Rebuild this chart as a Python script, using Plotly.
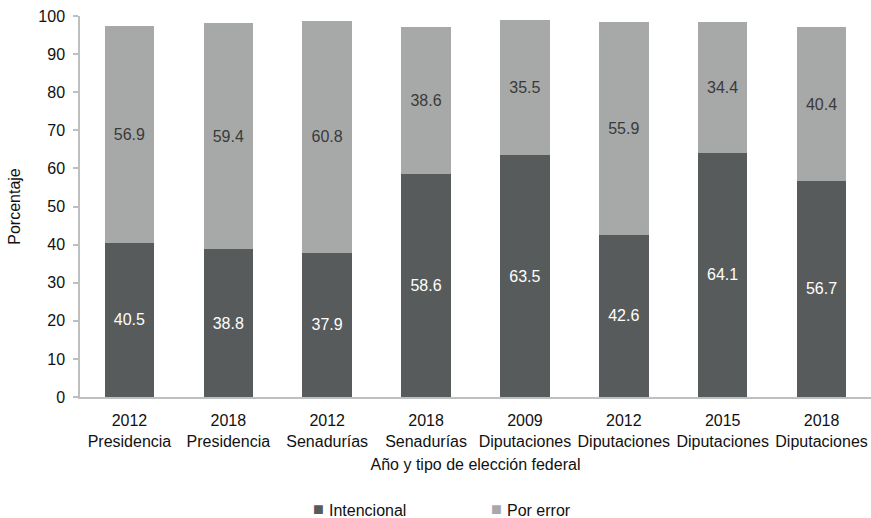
import plotly.graph_objects as go

# Federal elections: year and office
years = ["2012", "2018", "2012", "2018", "2009", "2012", "2015", "2018"]
offices = ["Presidencia", "Presidencia", "Senadurías", "Senadurías",
           "Diputaciones", "Diputaciones", "Diputaciones", "Diputaciones"]
categories = [f"{y}<br>{o}" for y, o in zip(years, offices)]

# Percentage of null votes by type
series_names = ["Intencional", "Por error"]
intencional = [40.5, 38.8, 37.9, 58.6, 63.5, 42.6, 64.1, 56.7]
por_error = [56.9, 59.4, 60.8, 38.6, 35.5, 55.9, 34.4, 40.4]

FONT = "Liberation Sans, Arial, sans-serif"
FS = 16
DARK = "#585b5b"
LIGHT = "#a7a9a9"
AXIS = "#bfbfbf"

fig = go.Figure()
fig.add_trace(go.Bar(
    x=categories, y=intencional, name=series_names[0],
    marker=dict(color=DARK, line=dict(width=0)),
    text=[f"{v:.1f}" for v in intencional], textposition="inside",
    insidetextanchor="middle", textangle=0,
    textfont=dict(color="white", size=FS, family=FONT),
))
fig.add_trace(go.Bar(
    x=categories, y=por_error, name=series_names[1],
    marker=dict(color=LIGHT, line=dict(width=0)),
    text=[f"{v:.1f}" for v in por_error], textposition="inside",
    insidetextanchor="middle", textangle=0,
    textfont=dict(color="#3a3a3a", size=FS, family=FONT),
))

# Legend drawn as a row of coloured squares with labels (pixel positions)
legend_x = [327, 505]
legend_y = 8
for name, color, lx in zip(series_names, [DARK, LIGHT], legend_x):
    fig.add_annotation(
        x=lx - 1, y=legend_y + 1, xref="paper", yref="paper", showarrow=False,
        text="■", font=dict(size=18, color=color, family=FONT),
        xanchor="right", yanchor="middle",
    )
    fig.add_annotation(
        x=lx, y=legend_y, xref="paper", yref="paper", showarrow=False,
        text=name, font=dict(size=FS, color="#111111", family=FONT),
        xanchor="left", yanchor="middle",
    )

fig.update_layout(
    width=871, height=518,
    barmode="stack", bargap=0.5,
    plot_bgcolor="white", paper_bgcolor="white",
    font=dict(family=FONT, size=FS, color="#111111"),
    margin=dict(l=80, r=0, t=16, b=121, autoexpand=False),
    uniformtext=dict(mode="show", minsize=10),
    showlegend=False,
    xaxis=dict(
        title=dict(text="Año y tipo de elección federal", standoff=10,
                   font=dict(size=FS)),
        showline=True, linecolor=AXIS, linewidth=1.5,
        ticks="", showgrid=False, range=[-0.5, 7.5],
        tickfont=dict(size=FS), ticklabelstandoff=8,
    ),
    yaxis=dict(
        title=dict(text="Porcentaje", standoff=14, font=dict(size=FS)),
        range=[0, 100], dtick=10, showgrid=False, zeroline=False,
        showline=True, linecolor=AXIS, linewidth=1.5,
        ticks="outside", ticklen=5, tickcolor=AXIS, tickwidth=1.5,
        tickfont=dict(size=FS), ticklabelstandoff=5,
    ),
)

# Annotation coordinates above are in pixels; convert to paper fractions
pw = 871 - 80
ph = 518 - 16 - 121
for ann in fig.layout.annotations:
    ann.x = (ann.x - 80) / pw
    ann.y = -(121 - ann.y) / ph

fig.write_html("out.html")
